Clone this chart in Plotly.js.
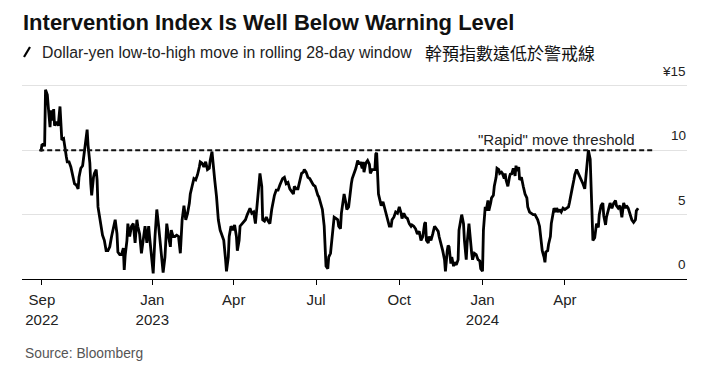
<!DOCTYPE html>
<html>
<head>
<meta charset="utf-8">
<script src="https://cdn.plot.ly/plotly-3.0.1.min.js"></script>
<style>html,body{margin:0;padding:0;background:#fff;}#chart{width:720px;height:373px;}</style>
</head>
<body>
<div id="chart"></div>
<script>
const dates = [
'2022-08-31','2022-09-01','2022-09-03','2022-09-04','2022-09-05','2022-09-07','2022-09-08','2022-09-10','2022-09-11','2022-09-13',
'2022-09-14','2022-09-15','2022-09-17','2022-09-19','2022-09-21','2022-09-22','2022-09-23','2022-09-25','2022-09-26','2022-09-28',
'2022-09-29','2022-10-01','2022-10-03','2022-10-05','2022-10-07','2022-10-09','2022-10-11','2022-10-12','2022-10-14','2022-10-16',
'2022-10-17','2022-10-19','2022-10-21','2022-10-22','2022-10-24','2022-10-25','2022-10-26','2022-10-28','2022-10-29','2022-10-31',
'2022-11-01','2022-11-02','2022-11-04','2022-11-06','2022-11-07','2022-11-09','2022-11-11','2022-11-13','2022-11-15','2022-11-17',
'2022-11-19','2022-11-21','2022-11-23','2022-11-24','2022-11-26','2022-11-28','2022-11-30','2022-12-01','2022-12-02','2022-12-04',
'2022-12-05','2022-12-07','2022-12-09','2022-12-11','2022-12-13','2022-12-15','2022-12-16','2022-12-18','2022-12-20','2022-12-22',
'2022-12-24','2022-12-26','2022-12-28','2022-12-29','2022-12-31','2023-01-02','2023-01-04','2023-01-06','2023-01-08','2023-01-09',
'2023-01-11','2023-01-13','2023-01-15','2023-01-17','2023-01-19','2023-01-21','2023-01-22','2023-01-24','2023-01-26','2023-01-28',
'2023-01-30','2023-02-01','2023-02-03','2023-02-05','2023-02-07','2023-02-09','2023-02-11','2023-02-12','2023-02-14','2023-02-16',
'2023-02-18','2023-02-20','2023-02-22','2023-02-23','2023-02-25','2023-02-27','2023-03-01','2023-03-03','2023-03-05','2023-03-06',
'2023-03-08','2023-03-09','2023-03-11','2023-03-13','2023-03-15','2023-03-17','2023-03-19','2023-03-21','2023-03-23','2023-03-24',
'2023-03-26','2023-03-27','2023-03-29','2023-03-31','2023-04-02','2023-04-04','2023-04-05','2023-04-07','2023-04-08','2023-04-10',
'2023-04-12','2023-04-14','2023-04-16','2023-04-18','2023-04-19','2023-04-21','2023-04-23','2023-04-25','2023-04-27','2023-04-29',
'2023-04-30','2023-05-02','2023-05-03','2023-05-05','2023-05-07','2023-05-09','2023-05-11','2023-05-13','2023-05-14','2023-05-16',
'2023-05-18','2023-05-20','2023-05-22','2023-05-24','2023-05-25','2023-05-27','2023-05-29','2023-05-31','2023-06-02','2023-06-04',
'2023-06-06','2023-06-07','2023-06-09','2023-06-11','2023-06-13','2023-06-15','2023-06-17','2023-06-18','2023-06-20','2023-06-22',
'2023-06-24','2023-06-26','2023-06-28','2023-06-30','2023-07-01','2023-07-03','2023-07-04','2023-07-06','2023-07-08','2023-07-10',
'2023-07-11','2023-07-12','2023-07-14','2023-07-15','2023-07-17','2023-07-18','2023-07-20','2023-07-21','2023-07-23','2023-07-25',
'2023-07-26','2023-07-28','2023-07-29','2023-07-31','2023-08-01','2023-08-03','2023-08-04','2023-08-06','2023-08-07','2023-08-09',
'2023-08-10','2023-08-12','2023-08-14','2023-08-16','2023-08-18','2023-08-19','2023-08-21','2023-08-22','2023-08-23','2023-08-25',
'2023-08-27','2023-08-29','2023-08-30','2023-09-01','2023-09-02','2023-09-04','2023-09-05','2023-09-06','2023-09-08','2023-09-09',
'2023-09-11','2023-09-13','2023-09-15','2023-09-16','2023-09-18','2023-09-20','2023-09-22','2023-09-23','2023-09-25','2023-09-27',
'2023-09-29','2023-10-01','2023-10-03','2023-10-04','2023-10-06','2023-10-08','2023-10-10','2023-10-12','2023-10-14','2023-10-15',
'2023-10-17','2023-10-19','2023-10-21','2023-10-23','2023-10-25','2023-10-27','2023-10-29','2023-10-30','2023-10-31','2023-11-02',
'2023-11-03','2023-11-05','2023-11-07','2023-11-09','2023-11-11','2023-11-13','2023-11-14','2023-11-16','2023-11-18','2023-11-20',
'2023-11-21','2023-11-23','2023-11-24','2023-11-25','2023-11-27','2023-11-28','2023-11-30','2023-12-01','2023-12-03','2023-12-05',
'2023-12-06','2023-12-08','2023-12-09','2023-12-11','2023-12-12','2023-12-14','2023-12-15','2023-12-17','2023-12-18','2023-12-20',
'2023-12-21','2023-12-23','2023-12-25','2023-12-27','2023-12-29','2023-12-30','2024-01-01','2024-01-02','2024-01-04','2024-01-05',
'2024-01-07','2024-01-08','2024-01-10','2024-01-11','2024-01-13','2024-01-14','2024-01-16','2024-01-17','2024-01-19','2024-01-20',
'2024-01-22','2024-01-23','2024-01-25','2024-01-26','2024-01-27','2024-01-29','2024-01-31','2024-02-01','2024-02-02','2024-02-04',
'2024-02-06','2024-02-07','2024-02-08','2024-02-10','2024-02-11','2024-02-13','2024-02-15','2024-02-17','2024-02-19','2024-02-20',
'2024-02-22','2024-02-24','2024-02-26','2024-02-28','2024-03-01','2024-03-02','2024-03-04','2024-03-06','2024-03-07','2024-03-09',
'2024-03-10','2024-03-11','2024-03-13','2024-03-14','2024-03-16','2024-03-17','2024-03-19','2024-03-20','2024-03-22','2024-03-23',
'2024-03-25','2024-03-26','2024-03-28','2024-03-30','2024-04-01','2024-04-03','2024-04-05','2024-04-06','2024-04-08','2024-04-09',
'2024-04-11','2024-04-12','2024-04-14','2024-04-16','2024-04-18','2024-04-19','2024-04-21','2024-04-23','2024-04-24','2024-04-26',
'2024-04-27','2024-04-29','2024-04-30','2024-05-01','2024-05-02','2024-05-04','2024-05-06','2024-05-08','2024-05-09','2024-05-11',
'2024-05-13','2024-05-14','2024-05-16','2024-05-17','2024-05-19','2024-05-21','2024-05-23','2024-05-25','2024-05-27','2024-05-28',
'2024-05-30','2024-06-01','2024-06-03','2024-06-05','2024-06-07','2024-06-08','2024-06-10','2024-06-12','2024-06-14','2024-06-16',
'2024-06-18','2024-06-19','2024-06-21'
];
const moveYen = [
9.9,10.4,10.5,10.3,14.7,14.3,13.4,11.8,13.1,12.3,
13.2,11.9,12.2,11.9,13.4,12.1,10.8,10.9,10.3,9.5,
9.1,9.1,8.7,7.9,7.4,7.3,7.0,7.9,8.6,8.8,
9.4,10.3,11.6,10.4,9.0,7.4,6.5,7.9,8.2,8.5,
7.7,5.6,4.8,4.1,3.4,3.0,2.2,2.2,2.5,3.3,
4.1,4.6,3.5,2.1,1.9,1.9,2.4,0.7,1.8,3.0,
4.3,3.3,4.1,4.3,2.8,4.6,4.1,3.5,2.0,3.3,
4.1,2.8,4.1,3.3,1.5,0.44,3.3,5.4,4.1,3.3,
1.5,0.5,1.7,4.3,3.3,2.5,3.8,3.3,3.3,3.4,
3.3,2.0,4.6,5.7,4.6,5.1,5.9,6.6,7.2,7.8,
7.7,8.1,8.7,9.1,9.0,8.7,9.1,8.5,8.6,9.2,
9.9,9.0,7.7,6.4,4.6,3.8,3.3,3.0,1.5,0.6,
1.7,3.3,4.1,3.8,4.2,3.3,2.2,3.0,4.1,4.3,
4.4,4.6,5.0,5.4,5.5,5.1,5.2,4.3,6.1,7.7,
8.2,7.2,4.6,4.5,4.8,4.5,4.3,5.4,5.9,6.5,
6.9,6.9,7.3,7.7,7.8,7.9,7.4,7.5,7.0,6.8,
6.6,7.2,7.0,7.0,7.7,8.2,8.3,8.5,8.3,7.9,
7.8,7.5,7.3,7.2,6.9,6.5,6.4,5.9,5.4,4.1,
2.5,1.0,0.8,1.7,2.0,2.8,4.3,4.8,4.7,4.6,
4.1,3.9,5.1,6.0,6.6,5.9,5.4,5.6,6.4,7.4,
7.8,8.2,8.6,9.2,8.9,9.1,8.6,9.1,8.3,9.0,
9.2,8.9,8.2,8.5,8.5,8.5,9.7,9.8,6.6,6.3,
5.7,6.0,5.5,5.1,4.6,4.1,4.1,4.6,4.8,5.2,
5.1,5.6,5.1,4.7,5.1,4.8,4.7,4.3,4.1,4.2,
4.1,3.9,3.5,3.7,3.0,3.3,4.3,4.4,3.0,2.8,
3.3,3.0,3.5,4.1,3.9,3.7,3.3,2.8,2.2,1.5,
0.6,2.2,2.6,2.5,1.2,1.7,1.0,1.3,1.1,1.5,
3.8,4.6,5.0,4.3,3.0,1.5,2.8,4.3,3.3,2.0,
1.5,2.0,1.9,1.5,1.4,0.8,0.6,3.8,5.6,5.3,
6.1,5.3,5.9,6.3,6.5,7.2,7.9,8.6,8.5,8.2,
8.3,8.2,7.8,8.2,7.7,7.2,8.0,8.2,8.1,8.6,
8.0,8.8,8.4,8.7,7.7,7.9,7.2,6.6,6.3,5.6,
5.2,5.1,5.0,5.0,4.8,4.6,4.1,3.0,2.2,1.7,
1.3,2.1,2.2,2.7,3.3,4.3,5.2,5.5,5.2,5.5,
5.2,5.4,5.2,5.5,5.4,5.5,5.6,5.9,6.8,7.0,
7.7,8.1,8.5,8.2,7.9,7.7,7.4,7.0,7.9,9.7,
10.0,9.3,6.9,4.6,3.0,3.2,4.3,4.0,5.0,5.7,
5.9,4.9,4.2,4.8,5.3,5.9,5.5,5.9,6.1,5.7,
5.5,5.7,4.8,5.9,5.5,5.7,5.5,5.0,4.6,4.4,
4.6,5.3,5.5
];
const threshold = 10;
const thresholdStart = '2022-08-29';
const thresholdEnd = '2024-07-08';
const thresholdLabel = '"Rapid" move threshold';
const thresholdLabelDate = '2024-06-20';
const xTickVals = ['2022-09-01','2023-01-01','2023-04-01','2023-07-01','2023-10-01','2024-01-01','2024-04-01'];
const xTickText = ['Sep<br>2022','Jan<br>2023','Apr','Jul','Oct','Jan<br>2024','Apr'];
const yTickVals = [0, 5, 10, 15];
const yTickText = ['0', '5', '10', '¥15'];
const titleText = 'Intervention Index Is Well Below Warning Level';
const subtitleText = 'Dollar-yen low-to-high move in rolling 28-day window';
const chineseText = '幹預指數遠低於警戒線';
const sourceText = 'Source: Bloomberg';

const FONT = '"Liberation Sans", Arial, Helvetica, sans-serif';

const trace = {
  x: dates, y: moveYen, type: 'scatter', mode: 'lines',
  line: {color: '#000000', width: 2.8, shape: 'linear'},
  hoverinfo: 'x+y', showlegend: false
};

const yLabelAnnotations = yTickVals.map((v, i) => ({
  text: yTickText[i], xref: 'paper', yref: 'y', x: 1, y: v,
  xanchor: 'right', yanchor: 'middle', yshift: 14.5, xshift: 1, showarrow: false,
  font: {family: FONT, size: 13.5, color: '#222222'}
}));

const layout = {
  width: 720, height: 373,
  margin: {l: 22, r: 33, t: 82, b: 94},
  paper_bgcolor: '#ffffff', plot_bgcolor: '#ffffff',
  font: {family: FONT, color: '#222222'},
  showlegend: false,
  title: {
    text: '<b>' + titleText + '</b>',
    font: {family: FONT, size: 22, color: '#111111'},
    x: 23/720, xanchor: 'left', xref: 'container',
    y: 1 - 22.5/373, yanchor: 'middle', yref: 'container'
  },
  xaxis: {
    type: 'date',
    range: ['2022-08-10', '2024-08-14'],
    tickmode: 'array', tickvals: xTickVals, ticktext: xTickText,
    showgrid: false, zeroline: false,
    showline: true, linecolor: '#000000', linewidth: 1,
    ticks: 'outside', ticklen: 5, tickwidth: 1, tickcolor: '#000000',
    tickfont: {family: FONT, size: 15, color: '#222222'},
    ticklabelstandoff: 2,
    fixedrange: true
  },
  yaxis: {
    range: [0, 15.3],
    side: 'right',
    tickmode: 'array', tickvals: yTickVals,
    showticklabels: false,
    showgrid: true, gridcolor: '#e2e2e2', gridwidth: 1,
    zeroline: false, showline: false, ticks: '',
    fixedrange: true
  },
  shapes: [
    {type: 'line', xref: 'x', yref: 'y', x0: thresholdStart, x1: thresholdEnd, y0: threshold, y1: threshold,
     line: {color: '#111111', width: 1.8, dash: '5px,3px'}, layer: 'above'},
    {type: 'line', xref: 'paper', yref: 'paper', x0: 2/665, y0: (279-57)/197, x1: 8/665, y1: (279-47)/197,
     line: {color: '#000000', width: 2.2}}
  ],
  annotations: [
    {text: subtitleText, xref: 'paper', yref: 'paper', x: 18/665, y: (279-52)/197,
     xanchor: 'left', yanchor: 'middle', showarrow: false,
     font: {family: FONT, size: 15.8, color: '#222222'}},
    {text: chineseText, xref: 'paper', yref: 'paper', x: 401/665, y: (279-52)/197,
     xanchor: 'left', yanchor: 'middle', showarrow: false,
     font: {family: '"Noto Sans CJK TC", "Noto Sans CJK SC", sans-serif', size: 17, color: '#111111'}},
    {text: thresholdLabel, xref: 'x', yref: 'y', x: thresholdLabelDate, y: threshold,
     xanchor: 'right', yanchor: 'middle', yshift: 11, showarrow: false,
     font: {family: FONT, size: 15, color: '#222222'}},
    {text: sourceText, xref: 'paper', yref: 'paper', x: 1/665, y: (279-353)/197,
     xanchor: 'left', yanchor: 'middle', showarrow: false,
     font: {family: FONT, size: 13.8, color: '#555555'}}
  ].concat(yLabelAnnotations)
};

Plotly.newPlot('chart', [trace], layout, {displayModeBar: false, staticPlot: true});
</script>
</body>
</html>
